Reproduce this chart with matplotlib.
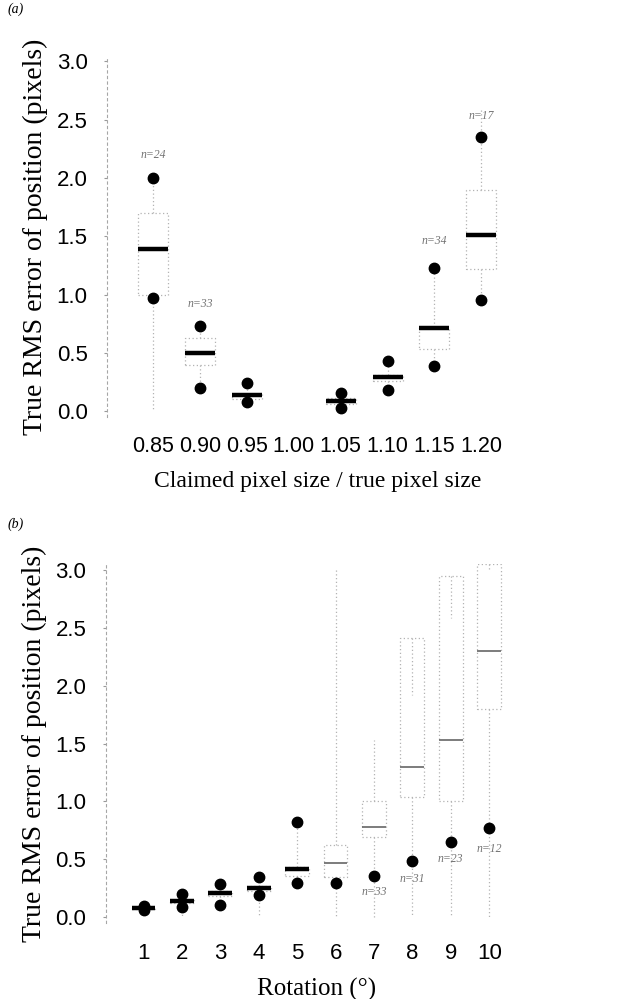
import numpy as np
import matplotlib
matplotlib.use("Agg")
import matplotlib.pyplot as plt

# panel (a): claimed / true pixel size
a_pos = [0.85, 0.90, 0.95, 1.05, 1.10, 1.15, 1.20]
a_ticks = [0.85, 0.90, 0.95, 1.00, 1.05, 1.10, 1.15, 1.20]
a_med = [1.39, 0.50, 0.135, 0.087, 0.29, 0.715, 1.51]
a_q1 = [1.00, 0.40, 0.10, 0.06, 0.26, 0.53, 1.22]
a_q3 = [1.70, 0.63, 0.15, 0.11, 0.31, 0.72, 1.90]
a_wlo = [0.00, 0.19, 0.07, 0.03, 0.17, 0.38, 0.95]
a_whi = [2.00, 0.73, 0.24, 0.16, 0.43, 1.23, 2.60]
a_dhi = [2.00, 0.73, 0.24, 0.16, 0.43, 1.23, 2.35]
a_dlo = [0.97, 0.20, 0.08, 0.03, 0.18, 0.39, 0.95]
a_n = {0.85: (2.20, "n=24"), 0.90: (0.92, "n=33"), 1.15: (1.46, "n=34"), 1.20: (2.53, "n=17")}

# panel (b): rotation
b_pos = [1, 2, 3, 4, 5, 6, 7, 8, 9, 10]
b_med = [0.08, 0.14, 0.21, 0.25, 0.42, 0.47, 0.78, 1.30, 1.53, 2.30]
b_q1 = [0.07, 0.12, 0.18, 0.23, 0.36, 0.35, 0.69, 1.04, 1.00, 1.80]
b_q3 = [0.09, 0.15, 0.23, 0.27, 0.43, 0.62, 1.00, 2.41, 2.95, 3.05]
b_wlo = [0.05, 0.00, 0.08, 0.00, 0.28, 0.00, 0.00, 0.00, 0.00, 0.00]
b_whi = [0.11, 0.21, 0.30, 0.36, 0.82, 3.00, 1.53, 1.92, 2.58, 3.00]
b_dhi = [0.10, 0.20, 0.29, 0.35, 0.82, np.nan, np.nan, np.nan, np.nan, np.nan]
b_dlo = [0.06, 0.087, 0.11, 0.19, 0.30, 0.30, 0.36, 0.485, 0.65, 0.77]
b_n = {7: (0.22, "n=33"), 8: (0.33, "n=31"), 9: (0.50, "n=23"), 10: (0.59, "n=12")}

fig = plt.figure(figsize=(6.38, 9.99), dpi=100)
ax1 = fig.add_axes([0.168, 0.5826, 0.66, 0.3617])
ax2 = fig.add_axes([0.166, 0.076, 0.661, 0.3594])


def stats(med, q1, q3, lo, hi):
    return [dict(med=m, q1=a, q3=b, whislo=l, whishi=h, fliers=[])
            for m, a, b, l, h in zip(med, q1, q3, lo, hi)]


faint = dict(color="0.7", lw=0.9, ls=(0, (1, 2)))

ax1.bxp(stats(a_med, a_q1, a_q3, a_wlo, a_whi), positions=a_pos, widths=0.032,
        showcaps=False, boxprops=faint, whiskerprops=faint,
        medianprops=dict(color="black", lw=3.2, solid_capstyle="butt"))
ax1.plot(a_pos, a_dhi, "o", color="black", ms=7.5)
ax1.plot(a_pos, a_dlo, "o", color="black", ms=7.5)
for x, (y, s) in a_n.items():
    ax1.text(x, y, s, ha="center", va="center", fontsize=8.5, style="italic",
             family="Liberation Serif", color="0.45")

stb = stats(b_med, b_q1, b_q3, b_wlo, b_whi)
ax2.bxp(stb[:5], positions=b_pos[:5], widths=0.62, showcaps=False,
        boxprops=faint, whiskerprops=faint,
        medianprops=dict(color="black", lw=3.2, solid_capstyle="butt"))
ax2.bxp(stb[5:], positions=b_pos[5:], widths=0.62, showcaps=False,
        boxprops=faint, whiskerprops=faint,
        medianprops=dict(color="0.4", lw=1.2))
ax2.plot(b_pos, b_dhi, "o", color="black", ms=7.5)
ax2.plot(b_pos, b_dlo, "o", color="black", ms=7.5)
for x, (y, s) in b_n.items():
    ax2.text(x, y, s, ha="center", va="center", fontsize=8.5, style="italic",
             family="Liberation Serif", color="0.45")

for ax in (ax1, ax2):
    ax.set_ylim(-0.05, 3.05)
    ax.set_yticks([0, 0.5, 1.0, 1.5, 2.0, 2.5, 3.0])
    ax.set_yticklabels(["0.0", "0.5", "1.0", "1.5", "2.0", "2.5", "3.0"])
    for s in ("top", "right", "bottom"):
        ax.spines[s].set_visible(False)
    ax.spines["left"].set_color("0.65")
    ax.spines["left"].set_linestyle((0, (2, 3)))
    ax.spines["left"].set_linewidth(0.8)
    ax.tick_params(axis="y", length=2, color="0.6", pad=12, labelsize=16)
    ax.tick_params(axis="x", length=0, pad=14, labelsize=16)
    for lab in ax.get_xticklabels() + ax.get_yticklabels():
        lab.set_family("Liberation Sans")
    ax.set_ylabel("True RMS error of position (pixels)", family="Liberation Serif",
                  fontsize=20, labelpad=6)

ax1.set_xlim(0.801, 1.25)
ax1.set_xticks(a_ticks)
ax1.set_xticklabels([f"{t:.2f}" for t in a_ticks], family="Liberation Sans", fontsize=15.5)
ax1.set_xlabel("Claimed pixel size / true pixel size", family="Liberation Serif",
               fontsize=17, labelpad=10)

ax2.set_xlim(0.02, 11.0)
ax2.set_xticks(b_pos)
ax2.set_xticklabels([str(t) for t in b_pos], family="Liberation Sans", fontsize=16)
ax2.set_xlabel("Rotation (°)", family="Liberation Serif", fontsize=18, labelpad=10)

fig.text(0.012, 0.997, "(a)", style="italic", family="Liberation Serif", fontsize=10, va="top")
fig.text(0.012, 0.482, "(b)", style="italic", family="Liberation Serif", fontsize=10, va="top")

fig.savefig("out.png", dpi=100, facecolor="white")
